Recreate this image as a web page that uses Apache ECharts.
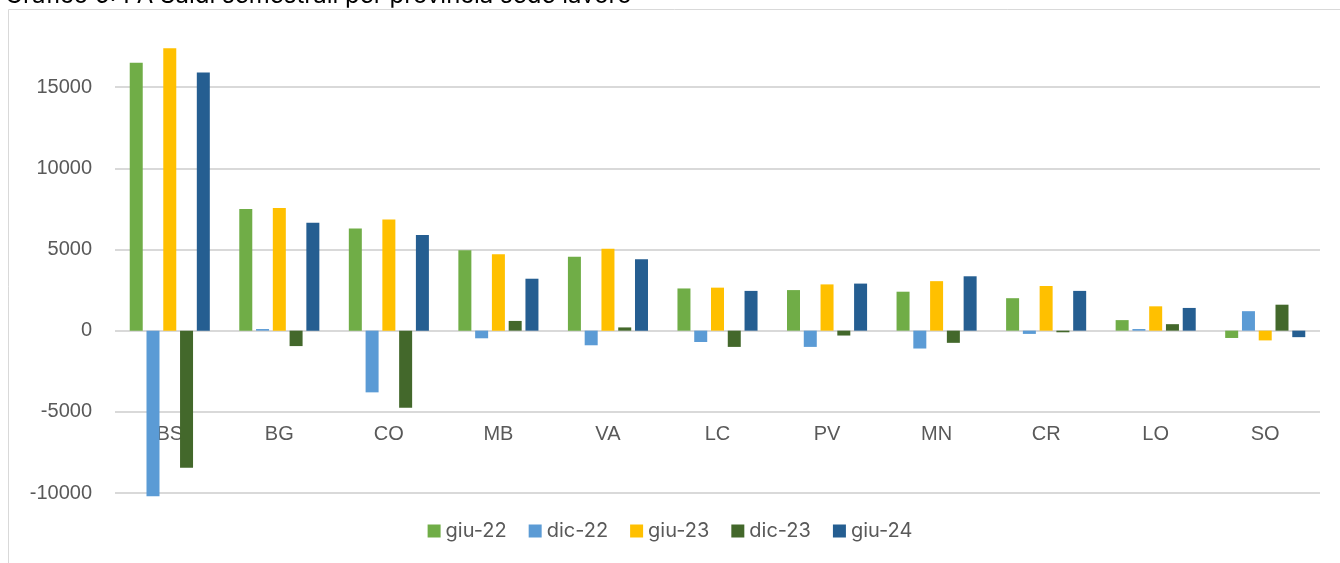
<!DOCTYPE html>
<html>
<head>
<meta charset="utf-8">
<script src="https://cdn.jsdelivr.net/npm/echarts@6/dist/echarts.min.js"></script>
<style>
  html, body { margin: 0; padding: 0; background: #fff; }
  #main { width: 1340px; height: 563px; }
</style>
</head>
<body>
<div id="main"></div>
<script>
// Province (sede lavoro)
const province = ['BS', 'BG', 'CO', 'MB', 'VA', 'LC', 'PV', 'MN', 'CR', 'LO', 'SO'];

// Saldi semestrali
const giu22 = [16500, 7500, 6300, 4950, 4550, 2600, 2500, 2400, 2000, 650, -450];
const dic22 = [-10200, 100, -3800, -470, -900, -700, -1000, -1100, -200, 100, 1200];
const giu23 = [17400, 7550, 6850, 4700, 5050, 2650, 2850, 3050, 2750, 1500, -600];
const dic23 = [-8450, -950, -4750, 600, 200, -1000, -300, -750, -100, 400, 1600];
const giu24 = [15900, 6650, 5900, 3200, 4400, 2450, 2900, 3350, 2450, 1400, -400];

const seriesDefs = [
  { name: 'giu-22', data: giu22, color: '#70AD47' },
  { name: 'dic-22', data: dic22, color: '#5B9BD5' },
  { name: 'giu-23', data: giu23, color: '#FFC000' },
  { name: 'dic-23', data: dic23, color: '#43682B' },
  { name: 'giu-24', data: giu24, color: '#255E91' }
];

const grid = '#d9d9d9';

const option = {
  animation: false,
  title: {
    text: 'Grafico 5: PA Saldi semestrali per provincia sede lavoro',
    left: 0,
    top: -21,
    textStyle: {
      fontFamily: 'Inter, sans-serif',
      fontSize: 24,
      fontWeight: 'normal',
      color: '#000'
    }
  },
  graphic: [{
    type: 'rect',
    shape: { x: 8.5, y: 9.5, width: 1400, height: 600 },
    style: { fill: 'none', stroke: grid, lineWidth: 1 },
    silent: true
  }],
  legend: {
    bottom: 17,
    left: 'center',
    itemWidth: 13,
    itemHeight: 13,
    itemGap: 22,
    icon: 'rect',
    textStyle: {
      fontFamily: 'Inter, sans-serif',
      fontSize: 20,
      color: '#595959'
    }
  },
  grid: { left: 115, right: 20, top: 6, bottom: 70, outerBoundsMode: 'none' },
  xAxis: {
    type: 'category',
    data: province,
    axisLine: { show: false },
    axisTick: { show: false },
    axisLabel: {
      // axis sits at grid bottom (-10000); labels are lifted into the plot like Excel
      margin: -69,
      fontFamily: 'Liberation Sans, Arial, sans-serif',
      fontSize: 20,
      color: '#595959'
    }
  },
  yAxis: {
    type: 'value',
    min: -10000,
    max: 20000,
    interval: 5000,
    axisLine: { show: false },
    axisTick: { show: false },
    axisLabel: {
      margin: 23,
      fontFamily: 'Liberation Sans, Arial, sans-serif',
      fontSize: 20,
      color: '#595959',
      formatter: (v) => (v === 20000 ? '' : String(v))
    },
    splitLine: {
      lineStyle: {
        width: 2,
        color: [grid, grid, grid, grid, grid, grid, 'rgba(0,0,0,0)']
      }
    }
  },
  series: seriesDefs.map((s) => ({
    type: 'bar',
    name: s.name,
    data: s.data,
    barWidth: 13,
    barGap: '29%',
    clip: false,
    itemStyle: { color: s.color }
  }))
};

const chart = echarts.init(document.getElementById('main'));
chart.setOption(option);
</script>
</body>
</html>
